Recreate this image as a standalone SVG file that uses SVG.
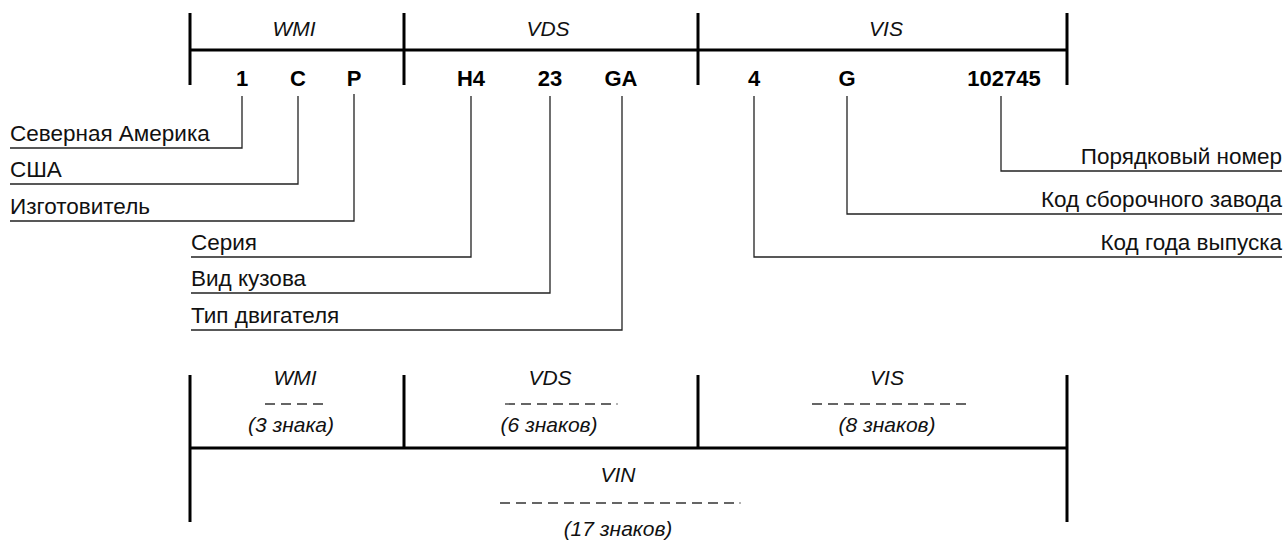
<svg xmlns="http://www.w3.org/2000/svg" width="1286" height="541" viewBox="0 0 1286 541">
<style>
.bar{stroke:#000;stroke-width:3;fill:none}
.ln{stroke:#222;stroke-width:1.3;fill:none}
.dash{stroke:#333;stroke-width:1.3;stroke-dasharray:10 6;fill:none}
.lbl{font-family:"Liberation Sans",Arial,sans-serif;font-size:21px;font-style:italic;fill:#111;text-anchor:middle}
.ch{font-family:"Liberation Sans",Arial,sans-serif;font-size:22px;font-weight:bold;fill:#000;text-anchor:middle}
.t{font-family:"Liberation Sans",Arial,sans-serif;font-size:22.5px;fill:#111}
.r{text-anchor:end}
</style>
<rect width="1286" height="541" fill="#fff"/>
<g id="top-scale">
<path class="bar" d="M190,13V85M404,13V85M698,13V85M1067,13V85M190,50H1067"/>
<text class="lbl" x="294" y="36">WMI</text>
<text class="lbl" x="548" y="36">VDS</text>
<text class="lbl" x="886" y="36">VIS</text>
</g>
<g id="chars">
<text class="ch" x="242" y="86">1</text>
<text class="ch" x="298" y="86">C</text>
<text class="ch" x="354" y="86">P</text>
<text class="ch" x="471" y="86">H4</text>
<text class="ch" x="550" y="86">23</text>
<text class="ch" x="621" y="86">GA</text>
<text class="ch" x="754" y="86">4</text>
<text class="ch" x="847" y="86">G</text>
<text class="ch" x="1004" y="86">102745</text>
</g>
<g id="connectors">
<path class="ln" d="M242,96V148H10"/>
<path class="ln" d="M298,96V184H10"/>
<path class="ln" d="M354,94V221H10"/>
<path class="ln" d="M471,96V257H191"/>
<path class="ln" d="M550,96V293H191"/>
<path class="ln" d="M622,96V330H191"/>
<path class="ln" d="M1001,96V171H1282"/>
<path class="ln" d="M847,96V214H1282"/>
<path class="ln" d="M754,96V257H1282"/>
</g>
<g id="desc-left">
<text class="t" x="10" y="141">Северная Америка</text>
<text class="t" x="10" y="177">США</text>
<text class="t" x="10" y="214">Изготовитель</text>
<text class="t" x="191" y="250">Серия</text>
<text class="t" x="191" y="286">Вид кузова</text>
<text class="t" x="191" y="323">Тип двигателя</text>
</g>
<g id="desc-right">
<text class="t r" x="1282" y="164">Порядковый номер</text>
<text class="t r" x="1282" y="207">Код сборочного завода</text>
<text class="t r" x="1282" y="250">Код года выпуска</text>
</g>
<g id="bottom-scale">
<path class="bar" d="M190,375V522M404,375V448M698,375V448M1067,375V522M190,448H1067"/>
<text class="lbl" x="295" y="385">WMI</text>
<text class="lbl" x="550" y="385">VDS</text>
<text class="lbl" x="887" y="385">VIS</text>
<path class="dash" d="M265,404H323"/>
<path class="dash" d="M505,404H611"/>
<circle cx="617" cy="404" r="0.8" fill="#555"/>
<path class="dash" d="M812,404H966"/>
<text class="lbl" x="291" y="432">(3 знака)</text>
<text class="lbl" x="549" y="432">(6 знаков)</text>
<text class="lbl" x="887" y="432">(8 знаков)</text>
<text class="lbl" x="618" y="482">VIN</text>
<path class="dash" d="M500,503H734"/>
<circle cx="740" cy="503" r="0.8" fill="#555"/>
<text class="lbl" x="618" y="536">(17 знаков)</text>
</g>
</svg>
